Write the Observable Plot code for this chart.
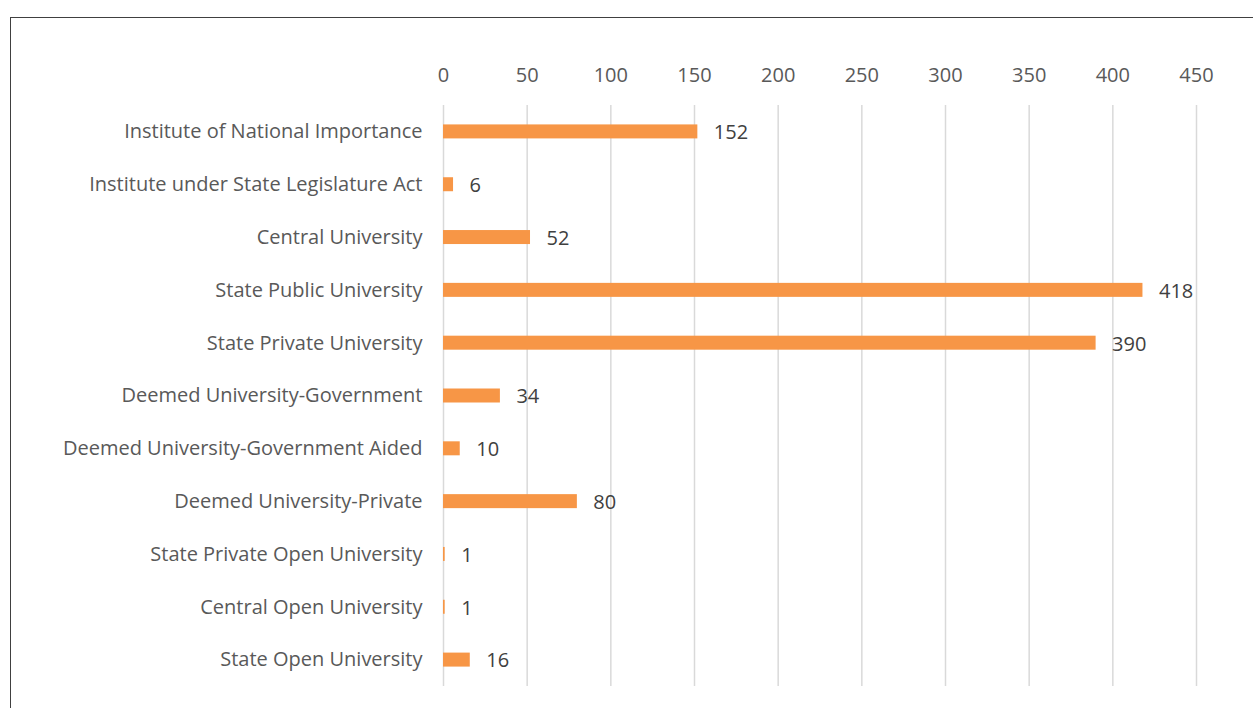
<!DOCTYPE html>
<html>
<head>
<meta charset="utf-8">
<script src="https://cdn.jsdelivr.net/npm/d3@7"></script>
<script src="https://cdn.jsdelivr.net/npm/@observablehq/plot@0.6"></script>
<style>
  html, body { margin: 0; padding: 0; background: #fff; overflow: hidden; width: 1253px; height: 708px; }
  #frame { position: absolute; left: 10px; top: 17px; width: 1400px; height: 800px; border: 1.5px solid #404040; box-sizing: border-box; }
  #chart { position: absolute; left: 0; top: 0; }
</style>
</head>
<body>
<div id="frame"></div>
<div id="chart"></div>
<script>
const categories = [
  "Institute of National Importance",
  "Institute under State Legislature Act",
  "Central University",
  "State Public University",
  "State Private University",
  "Deemed University-Government",
  "Deemed University-Government Aided",
  "Deemed University-Private",
  "State Private Open University",
  "Central Open University",
  "State Open University"
];
const values = [152, 6, 52, 418, 390, 34, 10, 80, 1, 1, 16];
const xTicks = [0, 50, 100, 150, 200, 250, 300, 350, 400, 450];

const data = categories.map((c, i) => ({category: c, value: values[i]}));

const chart = Plot.plot({
  width: 1253,
  height: 708,
  marginLeft: 443,
  marginRight: 57,
  marginTop: 105,
  marginBottom: 22,
  style: {fontFamily: "'Open Sans', sans-serif", fontSize: "20px", color: "#595959", background: "transparent"},
  x: {domain: [0, 450], ticks: xTicks},
  y: {domain: categories, paddingInner: 0.735, paddingOuter: 0.3675, round: false, label: null},
  marks: [
    Plot.gridX(xTicks, {stroke: "#d9d9d9", strokeOpacity: 1, strokeWidth: 1.5}),
    Plot.barX(data, {x: "value", y: "category", fill: "#f79646"}),
    Plot.text(data, {x: "value", y: "category", text: d => String(d.value), textAnchor: "start", dx: 16, dy: 1, fill: "#404040", fontSize: 20}),
    Plot.axisX({anchor: "top", ticks: xTicks, tickSize: 0, tickPadding: 24, label: null, fill: "#595959", fontSize: 20}),
    Plot.axisY({tickSize: 0, tickPadding: 21, label: null, fill: "#595959", fontSize: 20})
  ]
});
document.getElementById("chart").appendChild(chart);
</script>
</body>
</html>
